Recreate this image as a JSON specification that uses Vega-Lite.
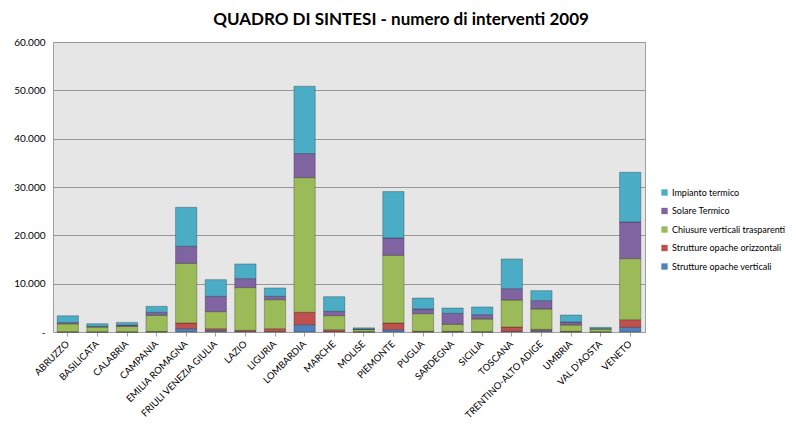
{
  "$schema": "https://vega.github.io/schema/vega-lite/v6.json",
  "width": 592,
  "height": 290,
  "autosize": "none",
  "padding": {"left": 53, "top": 42, "right": 151, "bottom": 96},
  "background": "white",
  "title": {
    "text": "QUADRO DI SINTESI - numero di interventi 2009",
    "font": "Lato",
    "fontSize": 17,
    "fontWeight": "bold",
    "color": "#000000",
    "anchor": "middle",
    "dx": 52,
    "offset": 8
  },
  "data": {
    "values": [
      {"regione": "ABRUZZO", "Strutture opache verticali": 20, "Strutture opache orizzontali": 40, "Chiusure verticali trasparenti": 1620, "Solare Termico": 280, "Impianto termico": 1400},
      {"regione": "BASILICATA", "Strutture opache verticali": 20, "Strutture opache orizzontali": 30, "Chiusure verticali trasparenti": 960, "Solare Termico": 150, "Impianto termico": 560},
      {"regione": "CALABRIA", "Strutture opache verticali": 20, "Strutture opache orizzontali": 30, "Chiusure verticali trasparenti": 1100, "Solare Termico": 280, "Impianto termico": 560},
      {"regione": "CAMPANIA", "Strutture opache verticali": 40, "Strutture opache orizzontali": 60, "Chiusure verticali trasparenti": 3350, "Solare Termico": 620, "Impianto termico": 1240},
      {"regione": "EMILIA ROMAGNA", "Strutture opache verticali": 690, "Strutture opache orizzontali": 1170, "Chiusure verticali trasparenti": 12350, "Solare Termico": 3520, "Impianto termico": 8070},
      {"regione": "FRIULI VENEZIA GIULIA", "Strutture opache verticali": 280, "Strutture opache orizzontali": 410, "Chiusure verticali trasparenti": 3520, "Solare Termico": 3170, "Impianto termico": 3450},
      {"regione": "LAZIO", "Strutture opache verticali": 100, "Strutture opache orizzontali": 250, "Chiusure verticali trasparenti": 8830, "Solare Termico": 1860, "Impianto termico": 3040},
      {"regione": "LIGURIA", "Strutture opache verticali": 90, "Strutture opache orizzontali": 600, "Chiusure verticali trasparenti": 6000, "Solare Termico": 690, "Impianto termico": 1730},
      {"regione": "LOMBARDIA", "Strutture opache verticali": 1520, "Strutture opache orizzontali": 2550, "Chiusure verticali trasparenti": 27880, "Solare Termico": 4970, "Impianto termico": 13930},
      {"regione": "MARCHE", "Strutture opache verticali": 100, "Strutture opache orizzontali": 380, "Chiusure verticali trasparenti": 2900, "Solare Termico": 900, "Impianto termico": 3030},
      {"regione": "MOLISE", "Strutture opache verticali": 30, "Strutture opache orizzontali": 50, "Chiusure verticali trasparenti": 450, "Solare Termico": 80, "Impianto termico": 250},
      {"regione": "PIEMONTE", "Strutture opache verticali": 480, "Strutture opache orizzontali": 1380, "Chiusure verticali trasparenti": 14010, "Solare Termico": 3590, "Impianto termico": 9590},
      {"regione": "PUGLIA", "Strutture opache verticali": 40, "Strutture opache orizzontali": 100, "Chiusure verticali trasparenti": 3660, "Solare Termico": 960, "Impianto termico": 2280},
      {"regione": "SARDEGNA", "Strutture opache verticali": 40, "Strutture opache orizzontali": 100, "Chiusure verticali trasparenti": 1450, "Solare Termico": 2270, "Impianto termico": 1110},
      {"regione": "SICILIA", "Strutture opache verticali": 20, "Strutture opache orizzontali": 50, "Chiusure verticali trasparenti": 2620, "Solare Termico": 900, "Impianto termico": 1590},
      {"regione": "TOSCANA", "Strutture opache verticali": 140, "Strutture opache orizzontali": 900, "Chiusure verticali trasparenti": 5580, "Solare Termico": 2350, "Impianto termico": 6140},
      {"regione": "TRENTINO-ALTO ADIGE", "Strutture opache verticali": 280, "Strutture opache orizzontali": 270, "Chiusure verticali trasparenti": 4210, "Solare Termico": 1730, "Impianto termico": 2070},
      {"regione": "UMBRIA", "Strutture opache verticali": 40, "Strutture opache orizzontali": 100, "Chiusure verticali trasparenti": 1310, "Solare Termico": 620, "Impianto termico": 1450},
      {"regione": "VAL D'AOSTA", "Strutture opache verticali": 20, "Strutture opache orizzontali": 30, "Chiusure verticali trasparenti": 570, "Solare Termico": 60, "Impianto termico": 280},
      {"regione": "VENETO", "Strutture opache verticali": 970, "Strutture opache orizzontali": 1580, "Chiusure verticali trasparenti": 12630, "Solare Termico": 7590, "Impianto termico": 10280}
    ]
  },
  "transform": [
    {"fold": ["Strutture opache verticali", "Strutture opache orizzontali", "Chiusure verticali trasparenti", "Solare Termico", "Impianto termico"], "as": ["tipo", "valore"]},
    {"calculate": "indexof(['Strutture opache verticali', 'Strutture opache orizzontali', 'Chiusure verticali trasparenti', 'Solare Termico', 'Impianto termico'], datum.tipo)", "as": "ordine"}
  ],
  "mark": {"type": "bar", "stroke": "#000000", "strokeOpacity": 0.25, "strokeWidth": 1},
  "encoding": {
    "x": {
      "field": "regione",
      "type": "nominal",
      "sort": null,
      "scale": {"paddingInner": 0.28, "paddingOuter": 0.14},
      "axis": {
        "title": null,
        "labelAngle": -45,
        "labelAlign": "right",
        "labelBaseline": "middle",
        "labelFont": "Lato",
        "labelFontSize": 9.5,
        "labelColor": "#000000",
        "labelPadding": 6,
        "ticks": true,
        "tickColor": "#A0A0A0",
        "tickSize": 4,
        "domainColor": "#A0A0A0",
        "labelOverlap": false
      }
    },
    "y": {
      "field": "valore",
      "type": "quantitative",
      "stack": "zero",
      "scale": {"domain": [0, 60000], "nice": false},
      "axis": {
        "title": null,
        "values": [0, 10000, 20000, 30000, 40000, 50000, 60000],
        "labelExpr": "datum.value === 0 ? '-' : replace(format(datum.value, ','), ',', '.')",
        "labelFont": "Lato",
        "labelFontSize": 10,
        "labelColor": "#000000",
        "labelPadding": 8,
        "ticks": false,
        "domain": false,
        "grid": true,
        "gridColor": "#969696",
        "gridWidth": 1
      }
    },
    "color": {
      "field": "tipo",
      "type": "nominal",
      "scale": {
        "domain": ["Impianto termico", "Solare Termico", "Chiusure verticali trasparenti", "Strutture opache orizzontali", "Strutture opache verticali"],
        "range": ["#4BACC6", "#8064A2", "#9BBB59", "#C0504D", "#4F81BD"]
      },
      "legend": {
        "title": null,
        "orient": "none",
        "legendX": 607,
        "legendY": 146,
        "symbolType": "square",
        "symbolSize": 40,
        "symbolStrokeWidth": 0,
        "labelFont": "Lato",
        "labelFontSize": 9,
        "labelColor": "#000000",
        "rowPadding": 8.5,
        "labelOffset": 3
      }
    },
    "order": {"field": "ordine", "type": "quantitative", "sort": "ascending"}
  },
  "config": {
    "view": {"fill": "#E6E6E6", "stroke": "#A0A0A0", "strokeWidth": 1}
  }
}
